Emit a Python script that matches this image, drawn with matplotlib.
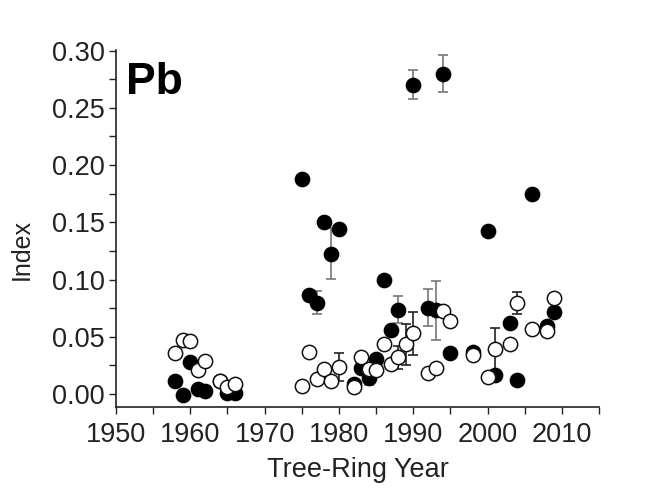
import matplotlib
matplotlib.use("Agg")
import matplotlib.pyplot as plt
import numpy as np

plt.rcParams['font.family'] = ['Liberation Sans', 'DejaVu Sans']

# Filled circles (series A)
filled_years = [1958, 1959, 1960, 1961, 1962, 1964, 1965, 1966,
                1975, 1976, 1977, 1978, 1979, 1980, 1982, 1983, 1984, 1985,
                1986, 1987, 1988, 1990, 1992, 1993, 1994, 1995, 1998, 2000,
                2001, 2003, 2004, 2006, 2008, 2009]
filled_values = [0.011, -0.001, 0.028, 0.004, 0.003, 0.011, 0.001, 0.001,
                 0.1875, 0.0863, 0.0796, 0.150, 0.1227, 0.1445, 0.0087, 0.023, 0.0142, 0.0302,
                 0.0994, 0.0558, 0.0738, 0.2703, 0.0755, 0.073, 0.2797, 0.0355, 0.0369, 0.1424,
                 0.0166, 0.0622, 0.0122, 0.1744, 0.0593, 0.0718]
filled_errors = [0, 0, 0, 0, 0, 0, 0, 0,
                 0, 0, 0.010, 0, 0.022, 0, 0, 0, 0.006, 0,
                 0, 0, 0.012, 0.0126, 0.016, 0.026, 0.016, 0, 0, 0,
                 0, 0, 0, 0, 0, 0]

# Open circles (series B)
open_years = [1958, 1959, 1960, 1961, 1962, 1964, 1965, 1966,
              1975, 1976, 1977, 1978, 1979, 1980, 1982, 1983, 1984, 1985,
              1986, 1987, 1988, 1989, 1990, 1992, 1993, 1994, 1995, 1998,
              2000, 2001, 2003, 2004, 2006, 2008, 2009]
open_values = [0.036, 0.047, 0.046, 0.021, 0.029, 0.011, 0.006, 0.009,
               0.007, 0.0369, 0.0128, 0.0215, 0.0116, 0.0238, 0.006, 0.0325, 0.0215, 0.021,
               0.0436, 0.026, 0.032, 0.0436, 0.053, 0.0186, 0.0224, 0.0727, 0.0637, 0.034,
               0.0151, 0.039, 0.0433, 0.0796, 0.0564, 0.0552, 0.084]
open_errors = [0, 0, 0, 0, 0, 0, 0, 0,
               0, 0, 0, 0.004, 0, 0.012, 0, 0, 0, 0,
               0, 0, 0.010, 0.018, 0.019, 0, 0, 0, 0, 0,
               0, 0.019, 0, 0.0095, 0, 0, 0]

x_ticks = [1950, 1960, 1970, 1980, 1990, 2000, 2010]
y_ticks = [0.00, 0.05, 0.10, 0.15, 0.20, 0.25, 0.30]

fig = plt.figure(figsize=(6.67, 4.9), dpi=100)
ax = fig.add_axes([116/667, 1 - 407/490, (599-116)/667, (407-50)/490])

def draw_errors(xs, ys, es, color_dark):
    for x, y, e in zip(xs, ys, es):
        if e > 0:
            c = '#222222' if color_dark else '#777777'
            ax.errorbar([x], [y], yerr=[e], fmt='none', ecolor=c,
                        elinewidth=1.2, capsize=3.5, capthick=1.2, zorder=1)

draw_errors(filled_years, filled_values, filled_errors, False)
draw_errors(open_years, open_values, open_errors, True)

ax.plot(filled_years, filled_values, 'o', ms=10.3, mfc='black', mec='black',
        mew=1, ls='none', zorder=3)
ax.plot(open_years, open_values, 'o', ms=10.3, mfc='white', mec='#111111',
        mew=1.1, ls='none', zorder=4)

ax.set_xlim(1950, 2015)
ax.set_ylim(-0.0113, 0.3005)
ax.set_xticks(x_ticks)
ax.set_xticks(np.arange(1955, 2016, 10), minor=True)
ax.set_yticks(y_ticks)
ax.set_yticks(np.arange(0.025, 0.3, 0.05), minor=True)
ax.set_yticklabels([f"{v:.2f}" for v in y_ticks])

for s in ['top', 'right']:
    ax.spines[s].set_visible(False)
for s in ['left', 'bottom']:
    ax.spines[s].set_linewidth(1.2)
    ax.spines[s].set_color('#222222')

ax.tick_params(axis='x', which='major', pad=6)
ax.tick_params(axis='y', which='major', pad=3)
ax.tick_params(axis='both', which='major', direction='out', length=5, width=1,
               labelsize=19.5, colors='#222222')
ax.tick_params(axis='both', which='minor', direction='out', length=5, width=1,
               colors='#222222')

ax.set_xlabel('Tree-Ring Year', fontsize=19.5, color='#222222')
ax.set_ylabel('Index', fontsize=18, color='#222222')
ax.xaxis.set_label_coords(0.5, -0.14)
ax.yaxis.set_label_coords(-0.17, 0.44)

ax.text(1951.3, 0.262, 'Pb', fontsize=32, fontweight='bold', color='black',
        ha='left', va='baseline')

fig.savefig('out.png', dpi=100)
